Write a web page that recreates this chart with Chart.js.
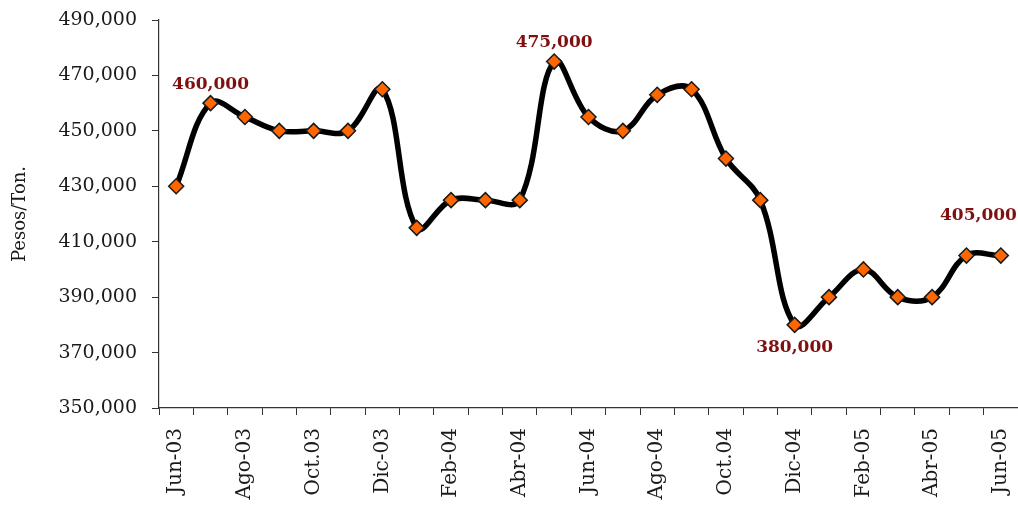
<!DOCTYPE html>
<html>
<head>
<meta charset="utf-8">
<script src="https://cdn.jsdelivr.net/npm/chart.js@4.4.0/dist/chart.umd.min.js"></script>
<style>
  html, body { margin: 0; padding: 0; background: #ffffff; }
  #wrap { width: 1018px; height: 506px; }
</style>
</head>
<body>
<div id="wrap"><canvas id="chart" width="1018" height="506"></canvas></div>
<script>
// Monthly price, Jun-03 .. Jun-05
const months = ['Jun-03', 'Jul-03', 'Ago-03', 'Sep-03', 'Oct.03', 'Nov-03', 'Dic-03',
    'Ene-04', 'Feb-04', 'Mar-04', 'Abr-04', 'May-04', 'Jun-04', 'Jul-04', 'Ago-04',
    'Sep-04', 'Oct.04', 'Nov-04', 'Dic-04', 'Ene-05', 'Feb-05', 'Mar-05', 'Abr-05',
    'May-05', 'Jun-05'];
const prices = [430000, 460000, 455000, 450000, 450000, 450000, 465000,
    415000, 425000, 425000, 425000, 475000, 455000, 450000, 463000,
    465000, 440000, 425000, 380000, 390000, 400000, 390000, 390000,
    405000, 405000];
const yTicks = [350000, 370000, 390000, 410000, 430000, 450000, 470000, 490000];

// points that carry a value label
const labelIndex = [1, 11, 18, 23];
const labelPlace = ['above', 'above', 'below', 'high'];

const fmt = v => v.toLocaleString('en-US');

const valueLabels = {
    id: 'valueLabels',
    afterDatasetsDraw(chart) {
        const meta = chart.getDatasetMeta(0);
        const ctx = chart.ctx;
        ctx.save();
        ctx.font = 'bold 17px "DejaVu Serif"';
        ctx.fillStyle = '#7f1010';
        ctx.textAlign = 'center';
        ctx.textBaseline = 'middle';
        labelIndex.forEach((idx, k) => {
            const pt = meta.data[idx];
            let x = pt.x, y = pt.y;
            if (labelPlace[k] === 'above') y -= 19;
            else if (labelPlace[k] === 'below') y += 23;
            else { y -= 40; x += 12; }
            ctx.fillText(fmt(prices[idx]), x, y);
        });
        ctx.restore();
    }
};

new Chart(document.getElementById('chart'), {
    type: 'line',
    data: {
        labels: months,
        datasets: [{
            data: prices,
            borderColor: '#000000',
            borderWidth: 5.5,
            tension: 0.38,
            fill: false,
            clip: false,
            pointStyle: 'rectRot',
            pointRadius: 7.5,
            pointBackgroundColor: '#ff6600',
            pointBorderColor: '#1a1a1a',
            pointBorderWidth: 1.5
        }]
    },
    options: {
        responsive: false,
        animation: false,
        devicePixelRatio: 1,
        layout: { autoPadding: false, padding: { top: 20, right: 0, left: 10, bottom: 0 } },
        plugins: {
            legend: { display: false },
            tooltip: { enabled: false }
        },
        scales: {
            x: {
                offset: true,
                grid: {
                    offset: true,
                    drawOnChartArea: false,
                    tickLength: 7,
                    color: '#333333'
                },
                border: { color: '#333333', width: 1.2 },
                ticks: {
                    autoSkip: false,
                    maxRotation: 90,
                    minRotation: 90,
                    padding: 13,
                    color: '#1a1a1a',
                    font: { family: '"DejaVu Serif"', size: 20 },
                    callback: (v, i) => (i % 2 === 0 ? months[i] : '')
                },
                afterFit: scale => {
                    scale.height = 98;
                    scale.paddingLeft = 0;
                    scale.paddingRight = 0;
                }
            },
            y: {
                min: yTicks[0],
                max: yTicks[yTicks.length - 1],
                afterBuildTicks: scale => { scale.ticks = yTicks.map(v => ({ value: v })); },
                grid: {
                    drawOnChartArea: false,
                    tickLength: 7,
                    color: '#333333'
                },
                border: { color: '#333333', width: 1.2 },
                ticks: {
                    padding: 15,
                    color: '#1a1a1a',
                    font: { family: '"DejaVu Serif"', size: 19 },
                    callback: v => fmt(v)
                },
                title: {
                    display: true,
                    text: 'Pesos/Ton.',
                    color: '#1a1a1a',
                    font: { family: '"DejaVu Serif"', size: 18 },
                    padding: { top: 0, bottom: 0 }
                },
                afterFit: scale => {
                    scale.width = 149;
                    scale.paddingTop = 0;
                    scale.paddingBottom = 0;
                }
            }
        }
    },
    plugins: [valueLabels]
});
</script>
</body>
</html>
